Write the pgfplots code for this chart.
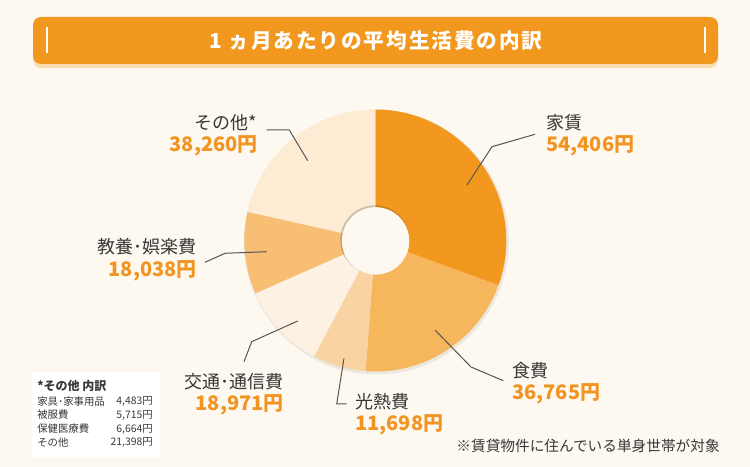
\documentclass[border=0pt]{standalone}
\usepackage{pgfplots}
\pgfplotsset{compat=1.18}
\usepackage{fontspec}
\setmainfont{Noto Sans CJK JP}
\definecolor{bg}{HTML}{FEF9F0}
\definecolor{titlebar}{HTML}{F3981E}
\definecolor{titleshadow}{HTML}{FBDDB2}
\definecolor{cA}{HTML}{F3981E}
\definecolor{cB}{HTML}{F6B65C}
\definecolor{cC}{HTML}{F9D4A2}
\definecolor{cD}{HTML}{FDF1E4}
\definecolor{cE}{HTML}{F8BE74}
\definecolor{cF}{HTML}{FDEBD3}
\definecolor{numc}{HTML}{F29422}
\definecolor{txt}{HTML}{383838}
\definecolor{lead}{HTML}{555555}
% data (yen per month)
\def\vA{54406}% 家賃
\def\vB{36765}% 食費
\def\vC{11698}% 光熱費
\def\vD{18971}% 交通・通信費
\def\vE{18038}% 教養・娯楽費
\def\vF{38260}% その他
\edef\tot{\fpeval{\vA+\vB+\vC+\vD+\vE+\vF}}
\edef\aA{\fpeval{90-360*(\vA)/\tot}}
\edef\aB{\fpeval{90-360*(\vA+\vB)/\tot}}
\edef\aC{\fpeval{90-360*(\vA+\vB+\vC)/\tot}}
\edef\aD{\fpeval{90-360*(\vA+\vB+\vC+\vD)/\tot}}
\edef\aE{\fpeval{90-360*(\vA+\vB+\vC+\vD+\vE)/\tot}}
\def\aF{-270}
\def\R{98.25pt}
\def\r{25.3pt}
\newcommand\lab{\fontsize{13.5pt}{16pt}\selectfont\color{txt}}
\newcommand\num{\fontsize{15pt}{17pt}\selectfont\bfseries\color{numc}}
\newcommand\sm{\fontsize{7.8pt}{9pt}\selectfont\color{txt}}
\begin{document}
\begin{tikzpicture}
\begin{axis}[at={(0,0)},anchor=south west,width=562.5pt,height=350.25pt,scale only axis,
  xmin=0,xmax=750,ymin=0,ymax=467,hide axis,clip=false]
% background
\fill[bg] (axis cs:0,0) rectangle (axis cs:750,467);
% title bar
\fill[titleshadow,rounded corners=6pt] (axis cs:33,399) rectangle (axis cs:718,447);
\fill[titlebar,rounded corners=6pt] (axis cs:33,403) rectangle (axis cs:718,450);
\draw[white,line width=1.1pt] (axis cs:47,414) -- (axis cs:47,440);
\draw[white,line width=1.1pt] (axis cs:705,414) -- (axis cs:705,440);
\node[white,font=\fontsize{15.5pt}{18pt}\selectfont\bfseries\addfontfeature{LetterSpace=9},inner sep=0] at (axis cs:376,426) {1 ヵ月あたりの平均生活費の内訳};
% donut shadow
\fill[black,opacity=0.07] (axis cs:376.3,225) circle[radius=99.3pt];
% slices
\fill[cA] (axis cs:375.3,226.5) -- ++(90:\R) arc[start angle=90,end angle=\aA,radius=\R] -- cycle;
\fill[cB] (axis cs:375.3,226.5) -- ++(\aA:\R) arc[start angle=\aA,end angle=\aB,radius=\R] -- cycle;
\fill[cC] (axis cs:375.3,226.5) -- ++(\aB:\R) arc[start angle=\aB,end angle=\aC,radius=\R] -- cycle;
\fill[cD] (axis cs:375.3,226.5) -- ++(\aC:\R) arc[start angle=\aC,end angle=\aD,radius=\R] -- cycle;
\fill[cE] (axis cs:375.3,226.5) -- ++(\aD:\R) arc[start angle=\aD,end angle=\aE,radius=\R] -- cycle;
\fill[cF] (axis cs:375.3,226.5) -- ++(\aE:\R) arc[start angle=\aE,end angle=\aF,radius=\R] -- cycle;
% hole
\fill[black,opacity=0.18] (axis cs:374.8,227.2) circle[radius=25.9pt];
\fill[bg] (axis cs:375.6,226.1) circle[radius=\r];
% leaders
\draw[lead,line width=0.75pt] (axis cs:467,282) -- (axis cs:492,320.3) -- (axis cs:535,332.7);
\draw[lead,line width=0.75pt] (axis cs:307.7,306.3) -- (axis cs:289.3,337) -- (axis cs:266.7,337);
\draw[lead,line width=0.75pt] (axis cs:266.7,215.3) -- (axis cs:225,213.7) -- (axis cs:205,204.7);
\draw[lead,line width=0.75pt] (axis cs:297.7,146) -- (axis cs:251.7,125.3) -- (axis cs:244,105.3);
\draw[lead,line width=0.75pt] (axis cs:344,108.7) -- (axis cs:336.7,63) -- (axis cs:346.7,63);
\draw[lead,line width=0.75pt] (axis cs:435,137) -- (axis cs:471,100) -- (axis cs:503.3,86.3);
% labels
\node[anchor=west,inner sep=0,font=\lab] at (axis cs:546,344) {家賃};
\node[anchor=west,inner sep=0,font=\num] at (axis cs:546,321.5) {54,406円};
\node[anchor=east,inner sep=0,font=\lab] at (axis cs:257,344) {その他*};
\node[anchor=east,inner sep=0,font=\num] at (axis cs:258,321.5) {38,260円};
\node[anchor=east,inner sep=0,font=\lab] at (axis cs:197,220) {教養･娯楽費};
\node[anchor=east,inner sep=0,font=\num] at (axis cs:197,196.5) {18,038円};
\node[anchor=east,inner sep=0,font=\lab] at (axis cs:284,85) {交通･通信費};
\node[anchor=east,inner sep=0,font=\num] at (axis cs:284,62.5) {18,971円};
\node[anchor=west,inner sep=0,font=\lab] at (axis cs:355,65) {光熱費};
\node[anchor=west,inner sep=0,font=\num] at (axis cs:355,42.5) {11,698円};
\node[anchor=west,inner sep=0,font=\lab] at (axis cs:512,96) {食費};
\node[anchor=west,inner sep=0,font=\num] at (axis cs:512,73.5) {36,765円};
% footnote
\node[anchor=east,inner sep=0,font=\fontsize{11pt}{12pt}\selectfont\color{txt}] at (axis cs:720,21) {※賃貸物件に住んでいる単身世帯が対象};
% breakdown box
\fill[white] (axis cs:31.7,10.3) rectangle (axis cs:160,95.3);
\node[anchor=west,inner sep=0,font=\fontsize{9pt}{11pt}\selectfont\bfseries\color{txt}] at (axis cs:37,81) {*その他 内訳};
\node[anchor=west,inner sep=0,font=\sm] at (axis cs:37,65.3) {家具･家事用品};
\node[anchor=east,inner sep=0,font=\sm] at (axis cs:153,65.3) {4,483円};
\node[anchor=west,inner sep=0,font=\sm] at (axis cs:37,52) {被服費};
\node[anchor=east,inner sep=0,font=\sm] at (axis cs:153,52) {5,715円};
\node[anchor=west,inner sep=0,font=\sm] at (axis cs:37,38) {保健医療費};
\node[anchor=east,inner sep=0,font=\sm] at (axis cs:153,38) {6,664円};
\node[anchor=west,inner sep=0,font=\sm] at (axis cs:37,24.3) {その他};
\node[anchor=east,inner sep=0,font=\sm] at (axis cs:153,24.3) {21,398円};
\end{axis}
\end{tikzpicture}
\end{document}
